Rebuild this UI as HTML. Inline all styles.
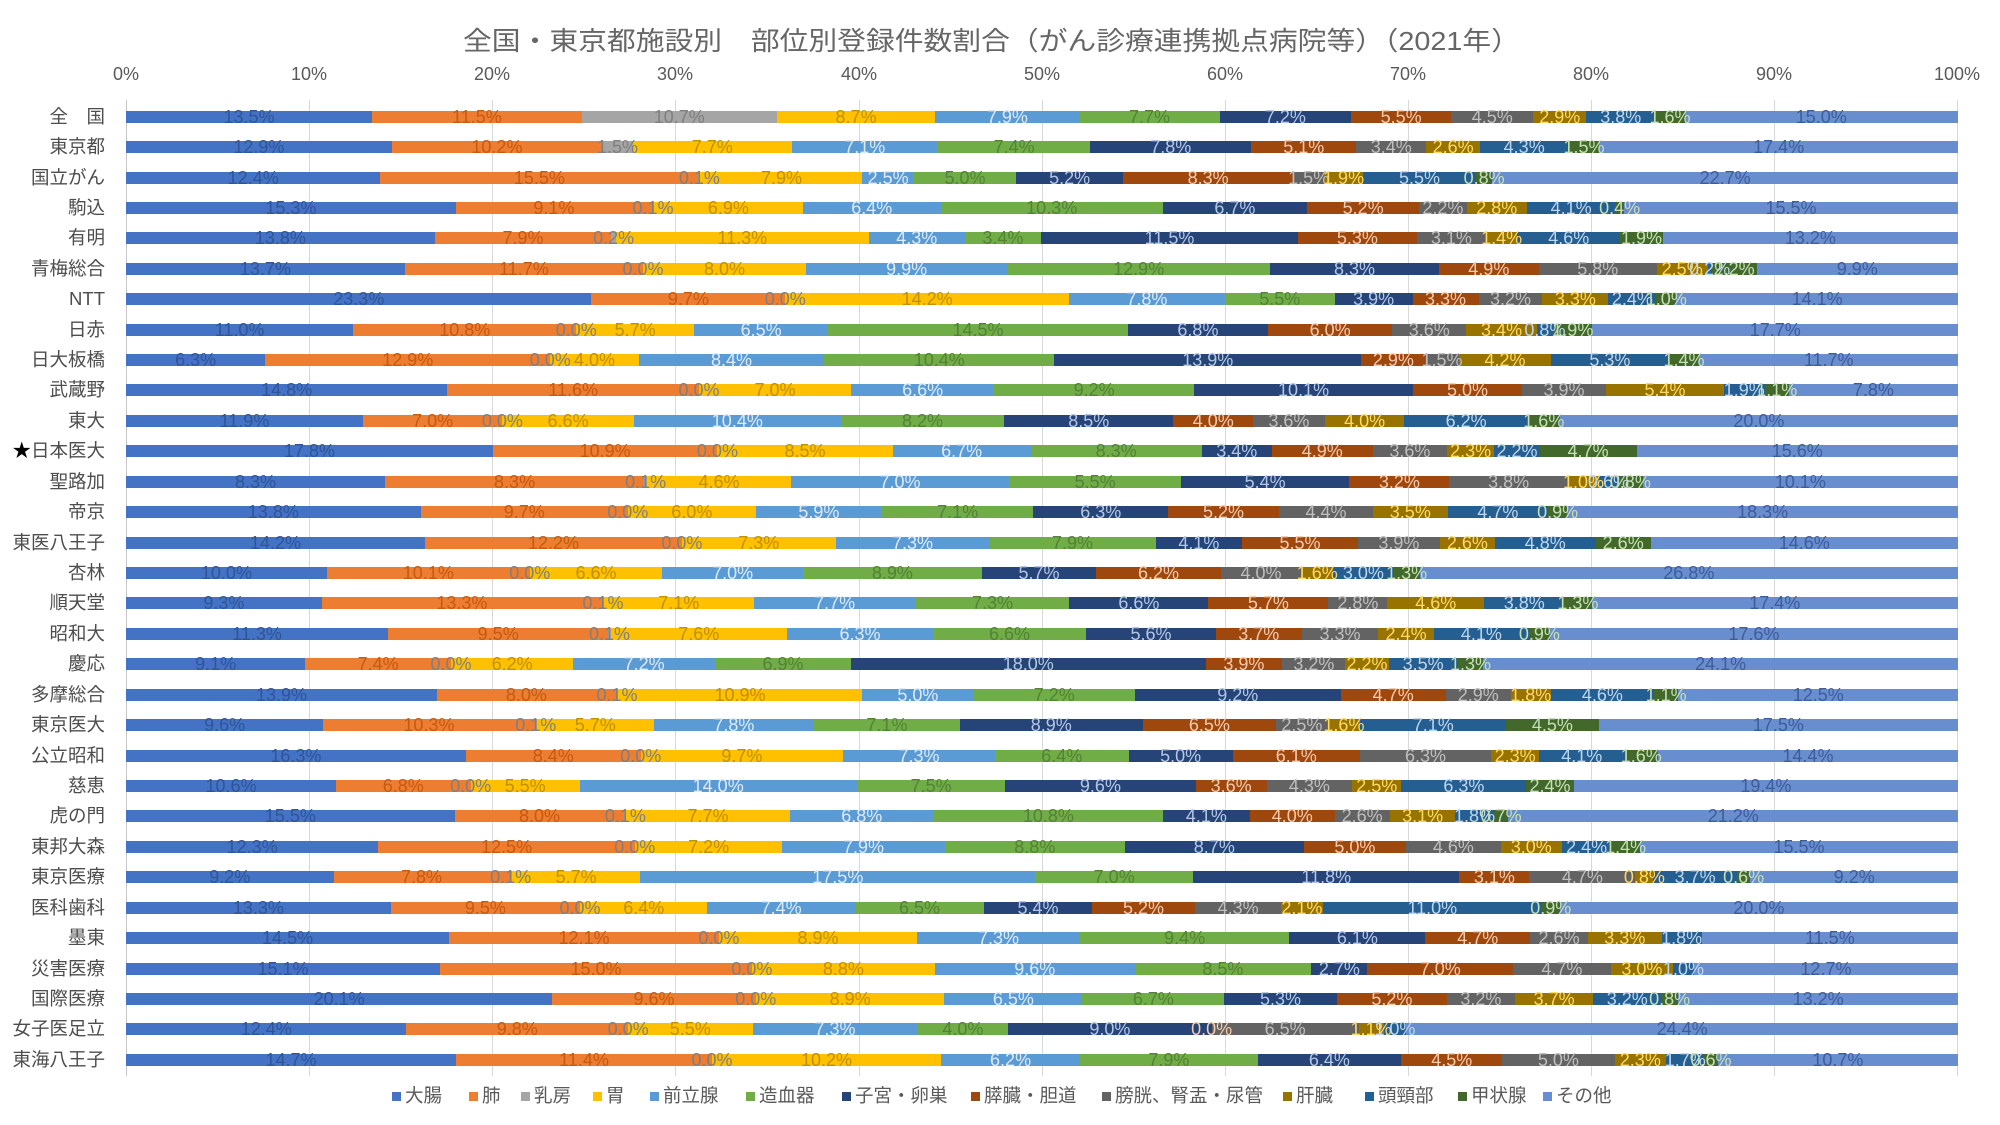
<!DOCTYPE html>
<html lang="ja">
<head>
<meta charset="utf-8">
<style>
html,body{margin:0;padding:0;background:#fff;}
#c{position:relative;width:2000px;height:1125px;overflow:hidden;background:#fff;font-family:"Liberation Sans","Noto Sans CJK JP",sans-serif;}
.g{position:absolute;top:100px;width:1px;height:976px;background:#d9d9d9;}
.ax{position:absolute;top:63px;width:80px;margin-left:-40px;text-align:center;font-size:18px;line-height:22px;color:#595959;}
#rows{position:absolute;left:0;top:110.7px;width:2000px;}
.r{position:relative;height:30.43px;}
.l{position:absolute;right:1895px;top:-4px;font-size:18.5px;line-height:20px;color:#4d4d4d;white-space:nowrap;}
.l em{font-style:normal;color:#000;}
.b{position:absolute;left:126px;width:1832px;top:0;height:12px;display:flex;}
.b i{display:flex;justify-content:center;min-width:0;font-style:normal;flex-basis:0;flex-shrink:0;overflow:visible;}
.b i b{position:relative;font-weight:normal;white-space:nowrap;font-size:18px;line-height:12px;}
.b i:nth-child(1){background:#4472C4;color:#2F5597}
.b i:nth-child(2){background:#ED7D31;color:#C55A11}
.b i:nth-child(3){background:#A5A5A5;color:#7F7F7F}
.b i:nth-child(4){background:#FFC000;color:#BF9000}
.b i:nth-child(5){background:#5B9BD5;color:#DDEBF7}
.b i:nth-child(6){background:#70AD47;color:#548235}
.b i:nth-child(7){background:#264478;color:#B4C7E7}
.b i:nth-child(8){background:#9E480E;color:#F8CBAD}
.b i:nth-child(9){background:#636363;color:#BFBFBF}
.b i:nth-child(10){background:#997300;color:#FFD966}
.b i:nth-child(11){background:#255E91;color:#BDD7EE}
.b i:nth-child(12){background:#43682B;color:#C5E0B4}
.b i:nth-child(13){background:#698ED0;color:#3E5C9A}
.lg{position:absolute;top:1085px;font-size:18.5px;line-height:22px;color:#595959;white-space:nowrap;}
.lg s{position:absolute;left:-13px;top:7px;width:9px;height:9px;}
</style>
</head>
<body>
<div id="c">
<svg width="2000" height="70" style="position:absolute;left:0;top:0">
<text x="463" y="50" font-size="26" fill="#666666" textLength="1057" lengthAdjust="spacingAndGlyphs" font-family="Liberation Sans, Noto Sans CJK JP, sans-serif">全国・東京都施設別　部位別登録件数割合（がん診療連携拠点病院等）（2021年）</text>
</svg>

<div class="g" style="left:126px;background:#c8c8c8"></div>
<div class="g" style="left:309px"></div>
<div class="g" style="left:492px"></div>
<div class="g" style="left:675px"></div>
<div class="g" style="left:859px"></div>
<div class="g" style="left:1042px"></div>
<div class="g" style="left:1225px"></div>
<div class="g" style="left:1408px"></div>
<div class="g" style="left:1591px"></div>
<div class="g" style="left:1774px"></div>
<div class="g" style="left:1957px"></div>

<div class="ax" style="left:126px">0%</div>
<div class="ax" style="left:309px">10%</div>
<div class="ax" style="left:492px">20%</div>
<div class="ax" style="left:675px">30%</div>
<div class="ax" style="left:859px">40%</div>
<div class="ax" style="left:1042px">50%</div>
<div class="ax" style="left:1225px">60%</div>
<div class="ax" style="left:1408px">70%</div>
<div class="ax" style="left:1591px">80%</div>
<div class="ax" style="left:1774px">90%</div>
<div class="ax" style="left:1957px">100%</div>

<div id="rows">
<div class="r"><span class="l">全　国</span><div class="b"><i style="flex:13.5"><b>13.5%</b></i><i style="flex:11.5"><b>11.5%</b></i><i style="flex:10.7"><b>10.7%</b></i><i style="flex:8.7"><b>8.7%</b></i><i style="flex:7.9"><b>7.9%</b></i><i style="flex:7.7"><b>7.7%</b></i><i style="flex:7.2"><b>7.2%</b></i><i style="flex:5.5"><b>5.5%</b></i><i style="flex:4.5"><b>4.5%</b></i><i style="flex:2.9"><b>2.9%</b></i><i style="flex:3.8"><b>3.8%</b></i><i style="flex:1.6"><b>1.6%</b></i><i style="flex:15.0"><b>15.0%</b></i></div></div>
<div class="r"><span class="l">東京都</span><div class="b"><i style="flex:12.9"><b>12.9%</b></i><i style="flex:10.2"><b>10.2%</b></i><i style="flex:1.5"><b>1.5%</b></i><i style="flex:7.7"><b>7.7%</b></i><i style="flex:7.1"><b>7.1%</b></i><i style="flex:7.4"><b>7.4%</b></i><i style="flex:7.8"><b>7.8%</b></i><i style="flex:5.1"><b>5.1%</b></i><i style="flex:3.4"><b>3.4%</b></i><i style="flex:2.6"><b>2.6%</b></i><i style="flex:4.3"><b>4.3%</b></i><i style="flex:1.5"><b>1.5%</b></i><i style="flex:17.4"><b>17.4%</b></i></div></div>
<div class="r"><span class="l">国立がん</span><div class="b"><i style="flex:12.4"><b>12.4%</b></i><i style="flex:15.5"><b>15.5%</b></i><i style="flex:0.1"><b>0.1%</b></i><i style="flex:7.9"><b>7.9%</b></i><i style="flex:2.5"><b>2.5%</b></i><i style="flex:5.0"><b>5.0%</b></i><i style="flex:5.2"><b>5.2%</b></i><i style="flex:8.3"><b>8.3%</b></i><i style="flex:1.5"><b>1.5%</b></i><i style="flex:1.9"><b>1.9%</b></i><i style="flex:5.5"><b>5.5%</b></i><i style="flex:0.8"><b>0.8%</b></i><i style="flex:22.7"><b>22.7%</b></i></div></div>
<div class="r"><span class="l">駒込</span><div class="b"><i style="flex:15.3"><b>15.3%</b></i><i style="flex:9.1"><b>9.1%</b></i><i style="flex:0.1"><b>0.1%</b></i><i style="flex:6.9"><b>6.9%</b></i><i style="flex:6.4"><b>6.4%</b></i><i style="flex:10.3"><b>10.3%</b></i><i style="flex:6.7"><b>6.7%</b></i><i style="flex:5.2"><b>5.2%</b></i><i style="flex:2.2"><b>2.2%</b></i><i style="flex:2.8"><b>2.8%</b></i><i style="flex:4.1"><b>4.1%</b></i><i style="flex:0.4"><b>0.4%</b></i><i style="flex:15.5"><b>15.5%</b></i></div></div>
<div class="r"><span class="l">有明</span><div class="b"><i style="flex:13.8"><b>13.8%</b></i><i style="flex:7.9"><b>7.9%</b></i><i style="flex:0.2"><b>0.2%</b></i><i style="flex:11.3"><b>11.3%</b></i><i style="flex:4.3"><b>4.3%</b></i><i style="flex:3.4"><b>3.4%</b></i><i style="flex:11.5"><b>11.5%</b></i><i style="flex:5.3"><b>5.3%</b></i><i style="flex:3.1"><b>3.1%</b></i><i style="flex:1.4"><b>1.4%</b></i><i style="flex:4.6"><b>4.6%</b></i><i style="flex:1.9"><b>1.9%</b></i><i style="flex:13.2"><b>13.2%</b></i></div></div>
<div class="r"><span class="l">青梅総合</span><div class="b"><i style="flex:13.7"><b>13.7%</b></i><i style="flex:11.7"><b>11.7%</b></i><i style="flex:0"><b>0.0%</b></i><i style="flex:8.0"><b>8.0%</b></i><i style="flex:9.9"><b>9.9%</b></i><i style="flex:12.9"><b>12.9%</b></i><i style="flex:8.3"><b>8.3%</b></i><i style="flex:4.9"><b>4.9%</b></i><i style="flex:5.8"><b>5.8%</b></i><i style="flex:2.5"><b>2.5%</b></i><i style="flex:0.2"><b>0.2%</b></i><i style="flex:2.2"><b>2.2%</b></i><i style="flex:9.9"><b>9.9%</b></i></div></div>
<div class="r"><span class="l">NTT</span><div class="b"><i style="flex:23.3"><b>23.3%</b></i><i style="flex:9.7"><b>9.7%</b></i><i style="flex:0"><b>0.0%</b></i><i style="flex:14.2"><b>14.2%</b></i><i style="flex:7.8"><b>7.8%</b></i><i style="flex:5.5"><b>5.5%</b></i><i style="flex:3.9"><b>3.9%</b></i><i style="flex:3.3"><b>3.3%</b></i><i style="flex:3.2"><b>3.2%</b></i><i style="flex:3.3"><b>3.3%</b></i><i style="flex:2.4"><b>2.4%</b></i><i style="flex:1.0"><b>1.0%</b></i><i style="flex:14.1"><b>14.1%</b></i></div></div>
<div class="r"><span class="l">日赤</span><div class="b"><i style="flex:11.0"><b>11.0%</b></i><i style="flex:10.8"><b>10.8%</b></i><i style="flex:0"><b>0.0%</b></i><i style="flex:5.7"><b>5.7%</b></i><i style="flex:6.5"><b>6.5%</b></i><i style="flex:14.5"><b>14.5%</b></i><i style="flex:6.8"><b>6.8%</b></i><i style="flex:6.0"><b>6.0%</b></i><i style="flex:3.6"><b>3.6%</b></i><i style="flex:3.4"><b>3.4%</b></i><i style="flex:0.8"><b>0.8%</b></i><i style="flex:1.9"><b>1.9%</b></i><i style="flex:17.7"><b>17.7%</b></i></div></div>
<div class="r"><span class="l">日大板橋</span><div class="b"><i style="flex:6.3"><b>6.3%</b></i><i style="flex:12.9"><b>12.9%</b></i><i style="flex:0"><b>0.0%</b></i><i style="flex:4.0"><b>4.0%</b></i><i style="flex:8.4"><b>8.4%</b></i><i style="flex:10.4"><b>10.4%</b></i><i style="flex:13.9"><b>13.9%</b></i><i style="flex:2.9"><b>2.9%</b></i><i style="flex:1.5"><b>1.5%</b></i><i style="flex:4.2"><b>4.2%</b></i><i style="flex:5.3"><b>5.3%</b></i><i style="flex:1.4"><b>1.4%</b></i><i style="flex:11.7"><b>11.7%</b></i></div></div>
<div class="r"><span class="l">武蔵野</span><div class="b"><i style="flex:14.8"><b>14.8%</b></i><i style="flex:11.6"><b>11.6%</b></i><i style="flex:0"><b>0.0%</b></i><i style="flex:7.0"><b>7.0%</b></i><i style="flex:6.6"><b>6.6%</b></i><i style="flex:9.2"><b>9.2%</b></i><i style="flex:10.1"><b>10.1%</b></i><i style="flex:5.0"><b>5.0%</b></i><i style="flex:3.9"><b>3.9%</b></i><i style="flex:5.4"><b>5.4%</b></i><i style="flex:1.9"><b>1.9%</b></i><i style="flex:1.1"><b>1.1%</b></i><i style="flex:7.8"><b>7.8%</b></i></div></div>
<div class="r"><span class="l">東大</span><div class="b"><i style="flex:11.9"><b>11.9%</b></i><i style="flex:7.0"><b>7.0%</b></i><i style="flex:0"><b>0.0%</b></i><i style="flex:6.6"><b>6.6%</b></i><i style="flex:10.4"><b>10.4%</b></i><i style="flex:8.2"><b>8.2%</b></i><i style="flex:8.5"><b>8.5%</b></i><i style="flex:4.0"><b>4.0%</b></i><i style="flex:3.6"><b>3.6%</b></i><i style="flex:4.0"><b>4.0%</b></i><i style="flex:6.2"><b>6.2%</b></i><i style="flex:1.6"><b>1.6%</b></i><i style="flex:20.0"><b>20.0%</b></i></div></div>
<div class="r"><span class="l"><em>★</em>日本医大</span><div class="b"><i style="flex:17.8"><b>17.8%</b></i><i style="flex:10.9"><b>10.9%</b></i><i style="flex:0"><b>0.0%</b></i><i style="flex:8.5"><b>8.5%</b></i><i style="flex:6.7"><b>6.7%</b></i><i style="flex:8.3"><b>8.3%</b></i><i style="flex:3.4"><b>3.4%</b></i><i style="flex:4.9"><b>4.9%</b></i><i style="flex:3.6"><b>3.6%</b></i><i style="flex:2.3"><b>2.3%</b></i><i style="flex:2.2"><b>2.2%</b></i><i style="flex:4.7"><b>4.7%</b></i><i style="flex:15.6"><b>15.6%</b></i></div></div>
<div class="r"><span class="l">聖路加</span><div class="b"><i style="flex:8.3"><b>8.3%</b></i><i style="flex:8.3"><b>8.3%</b></i><i style="flex:0.1"><b>0.1%</b></i><i style="flex:4.6"><b>4.6%</b></i><i style="flex:7.0"><b>7.0%</b></i><i style="flex:5.5"><b>5.5%</b></i><i style="flex:5.4"><b>5.4%</b></i><i style="flex:3.2"><b>3.2%</b></i><i style="flex:3.8"><b>3.8%</b></i><i style="flex:1.0"><b>1.0%</b></i><i style="flex:0.6"><b>0.6%</b></i><i style="flex:0.8"><b>0.8%</b></i><i style="flex:10.1"><b>10.1%</b></i></div></div>
<div class="r"><span class="l">帝京</span><div class="b"><i style="flex:13.8"><b>13.8%</b></i><i style="flex:9.7"><b>9.7%</b></i><i style="flex:0"><b>0.0%</b></i><i style="flex:6.0"><b>6.0%</b></i><i style="flex:5.9"><b>5.9%</b></i><i style="flex:7.1"><b>7.1%</b></i><i style="flex:6.3"><b>6.3%</b></i><i style="flex:5.2"><b>5.2%</b></i><i style="flex:4.4"><b>4.4%</b></i><i style="flex:3.5"><b>3.5%</b></i><i style="flex:4.7"><b>4.7%</b></i><i style="flex:0.9"><b>0.9%</b></i><i style="flex:18.3"><b>18.3%</b></i></div></div>
<div class="r"><span class="l">東医八王子</span><div class="b"><i style="flex:14.2"><b>14.2%</b></i><i style="flex:12.2"><b>12.2%</b></i><i style="flex:0"><b>0.0%</b></i><i style="flex:7.3"><b>7.3%</b></i><i style="flex:7.3"><b>7.3%</b></i><i style="flex:7.9"><b>7.9%</b></i><i style="flex:4.1"><b>4.1%</b></i><i style="flex:5.5"><b>5.5%</b></i><i style="flex:3.9"><b>3.9%</b></i><i style="flex:2.6"><b>2.6%</b></i><i style="flex:4.8"><b>4.8%</b></i><i style="flex:2.6"><b>2.6%</b></i><i style="flex:14.6"><b>14.6%</b></i></div></div>
<div class="r"><span class="l">杏林</span><div class="b"><i style="flex:10.0"><b>10.0%</b></i><i style="flex:10.1"><b>10.1%</b></i><i style="flex:0"><b>0.0%</b></i><i style="flex:6.6"><b>6.6%</b></i><i style="flex:7.0"><b>7.0%</b></i><i style="flex:8.9"><b>8.9%</b></i><i style="flex:5.7"><b>5.7%</b></i><i style="flex:6.2"><b>6.2%</b></i><i style="flex:4.0"><b>4.0%</b></i><i style="flex:1.6"><b>1.6%</b></i><i style="flex:3.0"><b>3.0%</b></i><i style="flex:1.3"><b>1.3%</b></i><i style="flex:26.8"><b>26.8%</b></i></div></div>
<div class="r"><span class="l">順天堂</span><div class="b"><i style="flex:9.3"><b>9.3%</b></i><i style="flex:13.3"><b>13.3%</b></i><i style="flex:0.1"><b>0.1%</b></i><i style="flex:7.1"><b>7.1%</b></i><i style="flex:7.7"><b>7.7%</b></i><i style="flex:7.3"><b>7.3%</b></i><i style="flex:6.6"><b>6.6%</b></i><i style="flex:5.7"><b>5.7%</b></i><i style="flex:2.8"><b>2.8%</b></i><i style="flex:4.6"><b>4.6%</b></i><i style="flex:3.8"><b>3.8%</b></i><i style="flex:1.3"><b>1.3%</b></i><i style="flex:17.4"><b>17.4%</b></i></div></div>
<div class="r"><span class="l">昭和大</span><div class="b"><i style="flex:11.3"><b>11.3%</b></i><i style="flex:9.5"><b>9.5%</b></i><i style="flex:0.1"><b>0.1%</b></i><i style="flex:7.6"><b>7.6%</b></i><i style="flex:6.3"><b>6.3%</b></i><i style="flex:6.6"><b>6.6%</b></i><i style="flex:5.6"><b>5.6%</b></i><i style="flex:3.7"><b>3.7%</b></i><i style="flex:3.3"><b>3.3%</b></i><i style="flex:2.4"><b>2.4%</b></i><i style="flex:4.1"><b>4.1%</b></i><i style="flex:0.9"><b>0.9%</b></i><i style="flex:17.6"><b>17.6%</b></i></div></div>
<div class="r"><span class="l">慶応</span><div class="b"><i style="flex:9.1"><b>9.1%</b></i><i style="flex:7.4"><b>7.4%</b></i><i style="flex:0"><b>0.0%</b></i><i style="flex:6.2"><b>6.2%</b></i><i style="flex:7.2"><b>7.2%</b></i><i style="flex:6.9"><b>6.9%</b></i><i style="flex:18.0"><b>18.0%</b></i><i style="flex:3.9"><b>3.9%</b></i><i style="flex:3.2"><b>3.2%</b></i><i style="flex:2.2"><b>2.2%</b></i><i style="flex:3.5"><b>3.5%</b></i><i style="flex:1.3"><b>1.3%</b></i><i style="flex:24.1"><b>24.1%</b></i></div></div>
<div class="r"><span class="l">多摩総合</span><div class="b"><i style="flex:13.9"><b>13.9%</b></i><i style="flex:8.0"><b>8.0%</b></i><i style="flex:0.1"><b>0.1%</b></i><i style="flex:10.9"><b>10.9%</b></i><i style="flex:5.0"><b>5.0%</b></i><i style="flex:7.2"><b>7.2%</b></i><i style="flex:9.2"><b>9.2%</b></i><i style="flex:4.7"><b>4.7%</b></i><i style="flex:2.9"><b>2.9%</b></i><i style="flex:1.8"><b>1.8%</b></i><i style="flex:4.6"><b>4.6%</b></i><i style="flex:1.1"><b>1.1%</b></i><i style="flex:12.5"><b>12.5%</b></i></div></div>
<div class="r"><span class="l">東京医大</span><div class="b"><i style="flex:9.6"><b>9.6%</b></i><i style="flex:10.3"><b>10.3%</b></i><i style="flex:0.1"><b>0.1%</b></i><i style="flex:5.7"><b>5.7%</b></i><i style="flex:7.8"><b>7.8%</b></i><i style="flex:7.1"><b>7.1%</b></i><i style="flex:8.9"><b>8.9%</b></i><i style="flex:6.5"><b>6.5%</b></i><i style="flex:2.5"><b>2.5%</b></i><i style="flex:1.6"><b>1.6%</b></i><i style="flex:7.1"><b>7.1%</b></i><i style="flex:4.5"><b>4.5%</b></i><i style="flex:17.5"><b>17.5%</b></i></div></div>
<div class="r"><span class="l">公立昭和</span><div class="b"><i style="flex:16.3"><b>16.3%</b></i><i style="flex:8.4"><b>8.4%</b></i><i style="flex:0"><b>0.0%</b></i><i style="flex:9.7"><b>9.7%</b></i><i style="flex:7.3"><b>7.3%</b></i><i style="flex:6.4"><b>6.4%</b></i><i style="flex:5.0"><b>5.0%</b></i><i style="flex:6.1"><b>6.1%</b></i><i style="flex:6.3"><b>6.3%</b></i><i style="flex:2.3"><b>2.3%</b></i><i style="flex:4.1"><b>4.1%</b></i><i style="flex:1.6"><b>1.6%</b></i><i style="flex:14.4"><b>14.4%</b></i></div></div>
<div class="r"><span class="l">慈恵</span><div class="b"><i style="flex:10.6"><b>10.6%</b></i><i style="flex:6.8"><b>6.8%</b></i><i style="flex:0"><b>0.0%</b></i><i style="flex:5.5"><b>5.5%</b></i><i style="flex:14.0"><b>14.0%</b></i><i style="flex:7.5"><b>7.5%</b></i><i style="flex:9.6"><b>9.6%</b></i><i style="flex:3.6"><b>3.6%</b></i><i style="flex:4.3"><b>4.3%</b></i><i style="flex:2.5"><b>2.5%</b></i><i style="flex:6.3"><b>6.3%</b></i><i style="flex:2.4"><b>2.4%</b></i><i style="flex:19.4"><b>19.4%</b></i></div></div>
<div class="r"><span class="l">虎の門</span><div class="b"><i style="flex:15.5"><b>15.5%</b></i><i style="flex:8.0"><b>8.0%</b></i><i style="flex:0.1"><b>0.1%</b></i><i style="flex:7.7"><b>7.7%</b></i><i style="flex:6.8"><b>6.8%</b></i><i style="flex:10.8"><b>10.8%</b></i><i style="flex:4.1"><b>4.1%</b></i><i style="flex:4.0"><b>4.0%</b></i><i style="flex:2.6"><b>2.6%</b></i><i style="flex:3.1"><b>3.1%</b></i><i style="flex:1.8"><b>1.8%</b></i><i style="flex:0.7"><b>0.7%</b></i><i style="flex:21.2"><b>21.2%</b></i></div></div>
<div class="r"><span class="l">東邦大森</span><div class="b"><i style="flex:12.3"><b>12.3%</b></i><i style="flex:12.5"><b>12.5%</b></i><i style="flex:0"><b>0.0%</b></i><i style="flex:7.2"><b>7.2%</b></i><i style="flex:7.9"><b>7.9%</b></i><i style="flex:8.8"><b>8.8%</b></i><i style="flex:8.7"><b>8.7%</b></i><i style="flex:5.0"><b>5.0%</b></i><i style="flex:4.6"><b>4.6%</b></i><i style="flex:3.0"><b>3.0%</b></i><i style="flex:2.4"><b>2.4%</b></i><i style="flex:1.4"><b>1.4%</b></i><i style="flex:15.5"><b>15.5%</b></i></div></div>
<div class="r"><span class="l">東京医療</span><div class="b"><i style="flex:9.2"><b>9.2%</b></i><i style="flex:7.8"><b>7.8%</b></i><i style="flex:0.1"><b>0.1%</b></i><i style="flex:5.7"><b>5.7%</b></i><i style="flex:17.5"><b>17.5%</b></i><i style="flex:7.0"><b>7.0%</b></i><i style="flex:11.8"><b>11.8%</b></i><i style="flex:3.1"><b>3.1%</b></i><i style="flex:4.7"><b>4.7%</b></i><i style="flex:0.8"><b>0.8%</b></i><i style="flex:3.7"><b>3.7%</b></i><i style="flex:0.6"><b>0.6%</b></i><i style="flex:9.2"><b>9.2%</b></i></div></div>
<div class="r"><span class="l">医科歯科</span><div class="b"><i style="flex:13.3"><b>13.3%</b></i><i style="flex:9.5"><b>9.5%</b></i><i style="flex:0"><b>0.0%</b></i><i style="flex:6.4"><b>6.4%</b></i><i style="flex:7.4"><b>7.4%</b></i><i style="flex:6.5"><b>6.5%</b></i><i style="flex:5.4"><b>5.4%</b></i><i style="flex:5.2"><b>5.2%</b></i><i style="flex:4.3"><b>4.3%</b></i><i style="flex:2.1"><b>2.1%</b></i><i style="flex:11.0"><b>11.0%</b></i><i style="flex:0.9"><b>0.9%</b></i><i style="flex:20.0"><b>20.0%</b></i></div></div>
<div class="r"><span class="l">墨東</span><div class="b"><i style="flex:14.5"><b>14.5%</b></i><i style="flex:12.1"><b>12.1%</b></i><i style="flex:0"><b>0.0%</b></i><i style="flex:8.9"><b>8.9%</b></i><i style="flex:7.3"><b>7.3%</b></i><i style="flex:9.4"><b>9.4%</b></i><i style="flex:6.1"><b>6.1%</b></i><i style="flex:4.7"><b>4.7%</b></i><i style="flex:2.6"><b>2.6%</b></i><i style="flex:3.3"><b>3.3%</b></i><i style="flex:1.8"><b>1.8%</b></i><i style="flex:0"></i><i style="flex:11.5"><b>11.5%</b></i></div></div>
<div class="r"><span class="l">災害医療</span><div class="b"><i style="flex:15.1"><b>15.1%</b></i><i style="flex:15.0"><b>15.0%</b></i><i style="flex:0"><b>0.0%</b></i><i style="flex:8.8"><b>8.8%</b></i><i style="flex:9.6"><b>9.6%</b></i><i style="flex:8.5"><b>8.5%</b></i><i style="flex:2.7"><b>2.7%</b></i><i style="flex:7.0"><b>7.0%</b></i><i style="flex:4.7"><b>4.7%</b></i><i style="flex:3.0"><b>3.0%</b></i><i style="flex:1.0"><b>1.0%</b></i><i style="flex:0"></i><i style="flex:12.7"><b>12.7%</b></i></div></div>
<div class="r"><span class="l">国際医療</span><div class="b"><i style="flex:20.1"><b>20.1%</b></i><i style="flex:9.6"><b>9.6%</b></i><i style="flex:0"><b>0.0%</b></i><i style="flex:8.9"><b>8.9%</b></i><i style="flex:6.5"><b>6.5%</b></i><i style="flex:6.7"><b>6.7%</b></i><i style="flex:5.3"><b>5.3%</b></i><i style="flex:5.2"><b>5.2%</b></i><i style="flex:3.2"><b>3.2%</b></i><i style="flex:3.7"><b>3.7%</b></i><i style="flex:3.2"><b>3.2%</b></i><i style="flex:0.8"><b>0.8%</b></i><i style="flex:13.2"><b>13.2%</b></i></div></div>
<div class="r"><span class="l">女子医足立</span><div class="b"><i style="flex:12.4"><b>12.4%</b></i><i style="flex:9.8"><b>9.8%</b></i><i style="flex:0"><b>0.0%</b></i><i style="flex:5.5"><b>5.5%</b></i><i style="flex:7.3"><b>7.3%</b></i><i style="flex:4.0"><b>4.0%</b></i><i style="flex:9.0"><b>9.0%</b></i><i style="flex:0"><b>0.0%</b></i><i style="flex:6.5"><b>6.5%</b></i><i style="flex:1.1"><b>1.1%</b></i><i style="flex:1.0"><b>1.0%</b></i><i style="flex:0"></i><i style="flex:24.4"><b>24.4%</b></i></div></div>
<div class="r"><span class="l">東海八王子</span><div class="b"><i style="flex:14.7"><b>14.7%</b></i><i style="flex:11.4"><b>11.4%</b></i><i style="flex:0"><b>0.0%</b></i><i style="flex:10.2"><b>10.2%</b></i><i style="flex:6.2"><b>6.2%</b></i><i style="flex:7.9"><b>7.9%</b></i><i style="flex:6.4"><b>6.4%</b></i><i style="flex:4.5"><b>4.5%</b></i><i style="flex:5.0"><b>5.0%</b></i><i style="flex:2.3"><b>2.3%</b></i><i style="flex:1.7"><b>1.7%</b></i><i style="flex:0.6"><b>0.6%</b></i><i style="flex:10.7"><b>10.7%</b></i></div></div>
</div>

<div class="lg" style="left:405px"><s style="background:#4472C4"></s>大腸</div>
<div class="lg" style="left:482px"><s style="background:#ED7D31"></s>肺</div>
<div class="lg" style="left:534px"><s style="background:#A5A5A5"></s>乳房</div>
<div class="lg" style="left:606px"><s style="background:#FFC000"></s>胃</div>
<div class="lg" style="left:663px"><s style="background:#5B9BD5"></s>前立腺</div>
<div class="lg" style="left:759px"><s style="background:#70AD47"></s>造血器</div>
<div class="lg" style="left:855px"><s style="background:#264478"></s>子宮・卵巣</div>
<div class="lg" style="left:984px"><s style="background:#9E480E"></s>膵臓・胆道</div>
<div class="lg" style="left:1115px"><s style="background:#636363"></s>膀胱、腎盂・尿管</div>
<div class="lg" style="left:1296px"><s style="background:#997300"></s>肝臓</div>
<div class="lg" style="left:1378px"><s style="background:#255E91"></s>頭頸部</div>
<div class="lg" style="left:1471px"><s style="background:#43682B"></s>甲状腺</div>
<div class="lg" style="left:1556px"><s style="background:#698ED0"></s>その他</div>
</div>
</body>
</html>
